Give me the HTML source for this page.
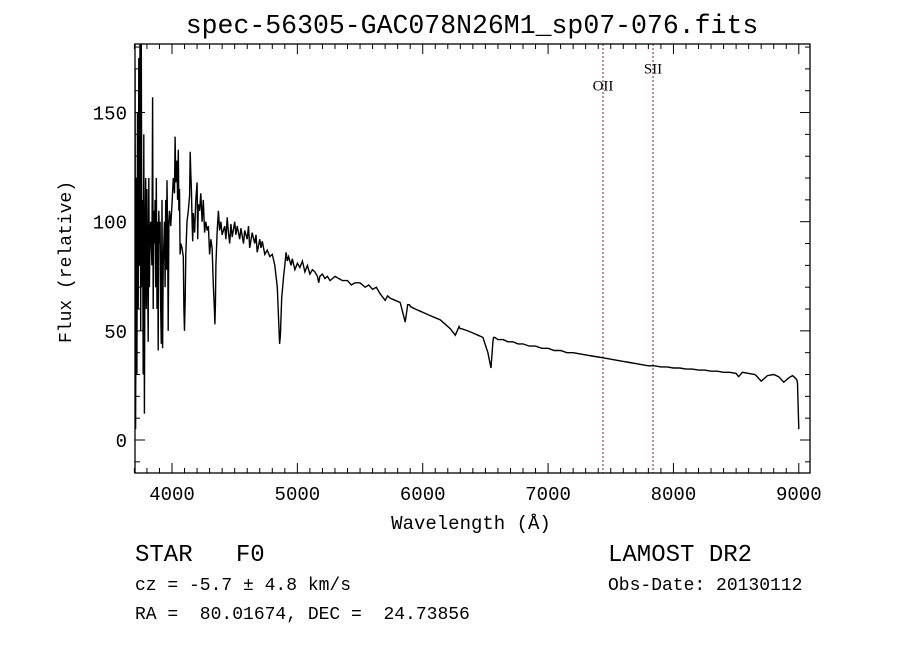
<!DOCTYPE html>
<html><head><meta charset="utf-8"><style>
html,body{margin:0;padding:0;background:#fff;}
svg text{font-family:"Liberation Mono",monospace;fill:#000;}
</style></head><body>
<svg id="chart" width="900" height="649" viewBox="0 0 900 649" xmlns="http://www.w3.org/2000/svg">
<rect width="900" height="649" fill="#fff"/>
<text x="472" y="33" font-size="26.5" text-anchor="middle">spec-56305-GAC078N26M1_sp07-076.fits</text>
<defs><clipPath id="pc"><rect x="135" y="44" width="675" height="429"/></clipPath></defs>
<g id="ticks"></g>
<g id="marks" clip-path="url(#pc)"></g>
<rect x="135" y="44" width="675" height="429" fill="none" stroke="#000" stroke-width="1.3"/>
<text x="471" y="529" font-size="19" text-anchor="middle">Wavelength (Å)</text>
<text x="0" y="0" font-size="18" text-anchor="middle" transform="translate(71,262) rotate(-90)">Flux (relative)</text>
<text x="135" y="561" font-size="24" xml:space="preserve">STAR   F0</text>
<text x="608" y="561" font-size="24">LAMOST DR2</text>
<text x="135" y="590" font-size="18">cz = -5.7 ± 4.8 km/s</text>
<text x="608" y="590" font-size="18">Obs-Date: 20130112</text>
<text x="135" y="619" font-size="18" xml:space="preserve">RA =  80.01674, DEC =  24.73856</text>
</svg>
<script>
const wavelengths=[3700,3705,3710,3715,3720,3725,3730,3735,3740,3745,3750,3755,3760,3765,3770,3775,3780,3785,3790,3795,3800,3810,3815,3820,3825,3830,3840,3845,3850,3855,3860,3865,3870,3875,3880,3885,3890,3895,3900,3905,3910,3915,3920,3925,3930,3940,3945,3950,3955,3960,3965,3970,3975,3980,3990,4000,4010,4020,4025,4030,4040,4045,4050,4055,4060,4065,4070,4080,4090,4095,4100,4105,4110,4120,4130,4140,4145,4150,4155,4160,4165,4170,4180,4190,4200,4205,4210,4220,4230,4240,4250,4260,4270,4280,4290,4300,4310,4320,4330,4338,4342,4346,4350,4360,4370,4380,4390,4400,4420,4430,4440,4450,4460,4470,4480,4500,4510,4520,4540,4550,4570,4580,4600,4610,4620,4640,4660,4670,4680,4700,4710,4720,4740,4760,4780,4800,4820,4840,4850,4858,4865,4875,4890,4900,4910,4920,4930,4950,4960,4980,5000,5020,5040,5060,5080,5100,5120,5140,5160,5170,5180,5200,5220,5240,5260,5280,5300,5330,5360,5400,5430,5460,5500,5540,5570,5600,5630,5660,5700,5720,5740,5780,5820,5860,5880,5893,5905,5940,5980,6020,6060,6100,6140,6180,6220,6260,6290,6298,6310,6360,6400,6440,6480,6520,6545,6560,6565,6575,6600,6640,6680,6720,6760,6800,6850,6900,6950,7000,7050,7100,7150,7200,7250,7300,7350,7400,7450,7500,7550,7600,7650,7700,7750,7800,7850,7900,7950,8000,8050,8100,8150,8200,8250,8300,8350,8400,8450,8500,8520,8550,8600,8650,8660,8700,8750,8800,8840,8880,8920,8950,8970,8985,8990,9000];
const fluxes=[40,170,5,120,30,150,60,175,80,182,50,182,70,110,30,140,12,90,120,60,115,45,120,70,95,100,80,157,60,105,90,110,70,120,60,100,41,105,90,100,60,44,110,42,80,100,70,110,78,119,95,50,100,105,98,108,120,113,139,118,128,110,133,105,115,85,90,88,84,60,50,65,85,100,105,112,132,122,115,100,91,104,95,110,118,92,108,105,113,100,110,95,100,96,98,85,92,88,70,60,53,62,80,95,105,96,100,94,98,92,102,95,90,99,93,100,94,98,92,97,90,96,92,98,88,95,90,94,86,92,88,91,85,87,84,85,80,70,55,44,48,65,75,80,86,82,84,80,83,78,81,79,82,77,80,76,78,77,75,72,75,76,74,75,73,74,75,74,73,73,71,72,72,70,71,69,70,67,64,66,65,64,63,54,62,62,61,60,59,58,57,56,55,53,51,48,52,51,51,50,49,48,47,40,33,45,47,47,46,46,45,45,44,44,43,43,42,42,41,41,40,40,39.5,39,38.5,38,37.5,37,36.5,36,35.5,35,34.5,34,34,33.5,33.5,33,33,32.5,32.5,32,32,31.5,31.5,31,31,30.5,29,31,30.5,30,29.5,27,29.5,30,29,26.5,28.5,29.5,28.5,27.5,26,5,0];
const xTickValues=[4000,5000,6000,7000,8000,9000];
const yTickValues=[0,50,100,150];
const lineNames=["OII","SII"];
const lineWaves=[7438,7837];
const lineLabelFlux=[160,168];

const X0=135,X1=810,Y0=44,Y1=473;
function xs(w){return 172+(w-4000)*0.12536;}
function ys(v){return 440-v*2.183;}
const NS="http://www.w3.org/2000/svg";
const ticks=document.getElementById('ticks'),marks=document.getElementById('marks'),svg=document.getElementById('chart');
function ln(p,x1,y1,x2,y2,extra){const l=document.createElementNS(NS,'line');l.setAttribute('x1',x1);l.setAttribute('y1',y1);l.setAttribute('x2',x2);l.setAttribute('y2',y2);l.setAttribute('stroke',extra||'#000');l.setAttribute('stroke-width','1');p.appendChild(l);return l;}
for(let w=3700;w<=9080;w+=100){const x=xs(w);const maj=w%1000===0;const L=maj?10:5;
 let t=ln(ticks,x,Y1,x,Y1-L);
 
 
 t=ln(ticks,x,Y0,x,Y0+L);
 
 }
for(let v=-10;v<=180;v+=10){const y=ys(v);const L=v%50===0?10:5;
 let t=ln(ticks,X0,y,X0+L,y);
 
 
 t=ln(ticks,X1,y,X1-L,y);
 
 }
xTickValues.forEach(w=>{const t=document.createElementNS(NS,'text');t.setAttribute('x',xs(w));t.setAttribute('y',500);t.setAttribute('font-size','19');t.setAttribute('text-anchor','middle');t.textContent=w;
 
 
 svg.appendChild(t);});
yTickValues.forEach(v=>{const t=document.createElementNS(NS,'text');t.setAttribute('x',127);t.setAttribute('y',ys(v)+7);t.setAttribute('font-size','19');t.setAttribute('text-anchor','end');t.textContent=v;
 
 
 svg.appendChild(t);});
lineNames.forEach((n,i)=>{const x=xs(lineWaves[i]);const l=ln(marks,x,Y0,x,Y1,'#8b1a1a');l.setAttribute('stroke-dasharray','2,2');
 
 
 const t=document.createElementNS(NS,'text');t.setAttribute('x',x);t.setAttribute('y',ys(lineLabelFlux[i]));t.setAttribute('font-size','15');t.setAttribute('text-anchor','middle');t.setAttribute('style','font-family:"Liberation Serif",serif');t.textContent=n;
 
 
 svg.appendChild(t);});
const pts=wavelengths.map((w,i)=>xs(w).toFixed(1)+','+ys(fluxes[i]).toFixed(1)).join(' ');
const pl=document.createElementNS(NS,'polyline');pl.setAttribute('points',pts);pl.setAttribute('fill','none');pl.setAttribute('stroke','#000');pl.setAttribute('stroke-width','1.4');


marks.appendChild(pl);
</script>
</body></html>
